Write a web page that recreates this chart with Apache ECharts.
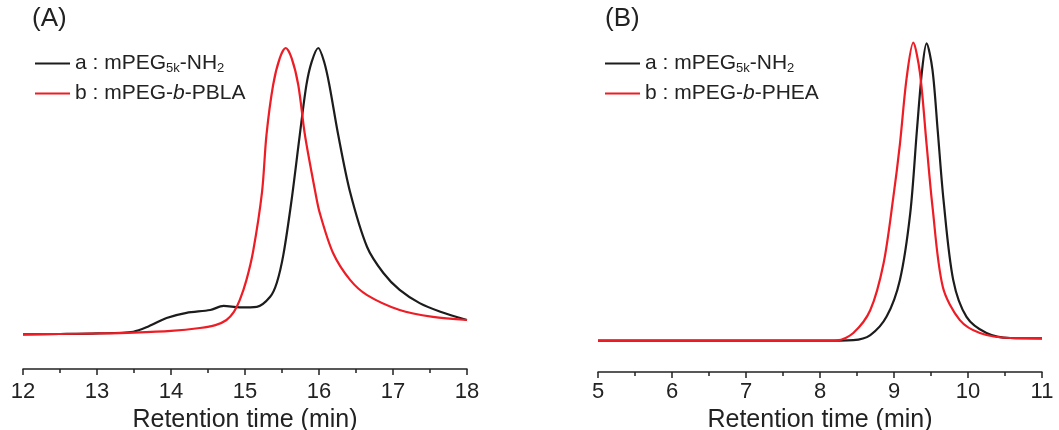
<!DOCTYPE html>
<html>
<head>
<meta charset="utf-8">
<script src="https://cdn.jsdelivr.net/npm/echarts@6/dist/echarts.min.js"></script>
<style>
  html, body { margin: 0; padding: 0; background: #fff; }
  #chart { width: 1059px; height: 430px; }
</style>
</head>
<body>
<div id="chart"></div>
<script>
// panel A : retention time (min) and normalized intensity
const tA_black = [12.0, 12.5, 13.0, 13.49, 13.7, 13.94, 14.21, 14.53, 14.71, 14.93, 15.16, 15.34, 15.43, 15.52, 15.63, 15.74, 15.83, 15.9, 15.99, 16.07, 16.14, 16.26, 16.42, 16.65, 16.87, 17.09, 17.36, 17.64, 18.0]
const vA_black = [0, 0.001, 0.003, 0.009, 0.028, 0.057, 0.075, 0.085, 0.099, 0.094, 0.096, 0.131, 0.18, 0.28, 0.47, 0.696, 0.871, 0.951, 1.0, 0.951, 0.871, 0.696, 0.497, 0.305, 0.214, 0.155, 0.109, 0.079, 0.05]
const tA_red = [12.0, 12.5, 13.04, 13.5, 14.0, 14.39, 14.6, 14.75, 14.85, 14.93, 15.02, 15.11, 15.23, 15.29, 15.38, 15.47, 15.55, 15.63, 15.72, 15.81, 15.95, 16.01, 16.19, 16.42, 16.65, 17.09, 17.54, 18.0]
const vA_red = [0, 0.001, 0.003, 0.006, 0.012, 0.022, 0.032, 0.05, 0.078, 0.12, 0.19, 0.29, 0.497, 0.696, 0.871, 0.965, 1.0, 0.965, 0.871, 0.696, 0.497, 0.424, 0.284, 0.19, 0.137, 0.085, 0.061, 0.05]

// panel B
const tB_black = [5, 6, 7, 8, 8.45, 8.68, 8.9, 9.08, 9.22, 9.31, 9.38, 9.44, 9.52, 9.59, 9.67, 9.8, 9.98, 10.25, 10.57, 11]
const vB_black = [0, 0, 0, 0, 0.002, 0.019, 0.081, 0.204, 0.429, 0.707, 0.909, 0.998, 0.909, 0.707, 0.47, 0.204, 0.08, 0.026, 0.009, 0.008]
const tB_red = [5, 6, 7, 8, 8.23, 8.45, 8.68, 8.86, 8.99, 9.08, 9.17, 9.26, 9.35, 9.44, 9.52, 9.66, 9.89, 10.16, 10.57, 11]
const vB_red = [0, 0, 0, 0, 0.001, 0.026, 0.103, 0.261, 0.48, 0.66, 0.88, 1.0, 0.9, 0.66, 0.45, 0.18, 0.069, 0.026, 0.009, 0.008]

const xTicksA = [12, 18]
const xTicksB = [5, 11]

const legendText = {
  Aa: '{t|a : mPEG}{s|5k}{t|-NH}{s|2}',
  Ab: '{t|b : mPEG-}{i|b}{t|-PBLA}',
  Ba: '{t|a : mPEG}{s|5k}{t|-NH}{s|2}',
  Bb: '{t|b : mPEG-}{i|b}{t|-PHEA}'
}

const FONT = "'Liberation Sans', Arial, sans-serif"
const BLACK = '#1c1c1c'
const RED = '#ee1c24'

function zip(t, v) {
  return t.map((x, i) => [x, v[i]])
}

function xAxisOf(idx, range, margin, gap) {
  return {
    type: 'value', gridIndex: idx, min: range[0], max: range[1], interval: 1,
    name: 'Retention time (min)', nameLocation: 'middle', nameGap: gap,
    nameTextStyle: { fontSize: 25, fontFamily: FONT, color: '#222' },
    axisLine: { onZero: false, lineStyle: { color: '#222', width: 1.5 } },
    axisTick: { length: 6, lineStyle: { color: '#222', width: 1.5 } },
    minorTick: { show: true, splitNumber: 2, length: 4, lineStyle: { color: '#222', width: 1.5 } },
    axisLabel: { fontSize: 22, fontFamily: FONT, color: '#222', margin: margin },
    splitLine: { show: false }
  }
}

function line(name, idx, data, color) {
  return {
    name: name, type: 'line', xAxisIndex: idx, yAxisIndex: idx,
    data: data, smooth: 0.3, showSymbol: false, symbol: 'none',
    lineStyle: { color: color, width: 2.2 }, itemStyle: { color: color },
    emphasis: { disabled: true }
  }
}

function legendOf(left, names) {
  return {
    left: left, top: 48, orient: 'vertical', data: names,
    icon: 'rect', itemWidth: 35, itemHeight: 2, itemGap: 8,
    formatter: n => legendText[n],
    textStyle: {
      fontFamily: FONT, color: '#222', fontSize: 21,
      rich: {
        t: { fontSize: 21, fontFamily: FONT, color: '#222' },
        s: { fontSize: 13, fontFamily: FONT, color: '#222', padding: [10, 0, 0, 0] },
        i: { fontSize: 21, fontFamily: FONT, color: '#222', fontStyle: 'italic' }
      }
    }
  }
}

const chart = echarts.init(document.getElementById('chart'))
chart.setOption({
  animation: false,
  title: [
    { text: '(A)', left: 27, top: 1, textStyle: { fontSize: 26, fontWeight: 'normal', fontFamily: FONT, color: '#222' } },
    { text: '(B)', left: 600, top: 1, textStyle: { fontSize: 26, fontWeight: 'normal', fontFamily: FONT, color: '#222' } }
  ],
  legend: [legendOf(30, ['Aa', 'Ab']), legendOf(600, ['Ba', 'Bb'])],
  grid: [
    { left: 23, width: 444, top: 40, bottom: 61, outerBoundsMode: 'none' },
    { left: 598, width: 444, top: 40, bottom: 58, outerBoundsMode: 'none' }
  ],
  xAxis: [xAxisOf(0, xTicksA, 12, 25), xAxisOf(1, xTicksB, 9, 22)],
  yAxis: [
    { type: 'value', gridIndex: 0, min: -0.1212, max: 1.028, show: false },
    { type: 'value', gridIndex: 1, min: -0.105, max: 1.009, show: false }
  ],
  series: [
    line('Aa', 0, zip(tA_black, vA_black), BLACK),
    line('Ab', 0, zip(tA_red, vA_red), RED),
    line('Ba', 1, zip(tB_black, vB_black), BLACK),
    line('Bb', 1, zip(tB_red, vB_red), RED)
  ]
})
</script>
</body>
</html>
